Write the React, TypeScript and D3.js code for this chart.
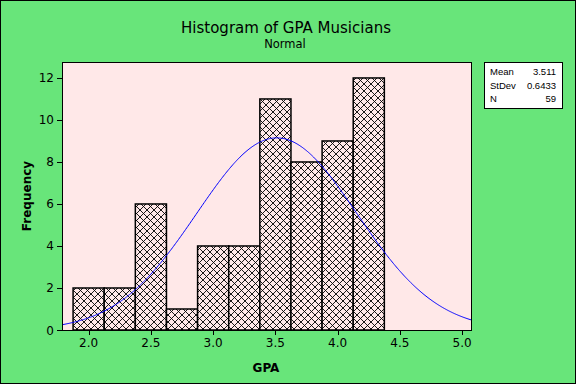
import React from "react";
import * as d3 from "d3";

const binCenters = [2.0, 2.25, 2.5, 2.75, 3.0, 3.25, 3.5, 3.75, 4.0, 4.25];
const counts = [2, 2, 6, 1, 4, 4, 11, 8, 9, 12];
const binWidth = 0.25;
const meanVal = 3.511;
const sdVal = 0.6433;
const nVal = 59;
const xTicks = [2.0, 2.5, 3.0, 3.5, 4.0, 4.5, 5.0];
const yTicks = [0, 2, 4, 6, 8, 10, 12];
const statLabels = ["Mean", "StDev", "N"];
const statValues = ["3.511", "0.6433", "59"];

const W = 576;
const H = 384;
const plot = { left: 62, right: 471, top: 62, bottom: 330 };
const GREEN = "#68E57A";
const PINK = "#FFE8E8";
const FONT = "DejaVu Sans, Verdana, sans-serif";
const SMALLFONT = "Liberation Sans, Arial, sans-serif";

export default function App() {
  React.useEffect(() => {
    document.body.style.margin = "0";
  }, []);
  const x = d3.scaleLinear().domain([1.786, 5.071]).range([plot.left, plot.right]);
  const y = d3.scaleLinear().domain([0, 12.76]).range([plot.bottom, plot.top]);

  const scale = nVal * binWidth;
  const pdf = (v: number) =>
    (scale / (sdVal * Math.sqrt(2 * Math.PI))) * Math.exp(-0.5 * ((v - meanVal) / sdVal) ** 2);
  const xs = d3.range(0, 401).map((i) => 1.786 + ((5.071 - 1.786) * i) / 400);
  const line = d3
    .line<number>()
    .x((d) => x(d))
    .y((d) => y(pdf(d)))
    .curve(d3.curveLinear);

  return (
    <svg width={W} height={H} style={{ display: "block", position: "absolute", left: 0, top: 0 }}>
      <defs>
        <pattern id="hatch" patternUnits="userSpaceOnUse" width={7} height={7}>
          <rect width={7} height={7} fill={PINK} />
          <path d="M0,0 L7,7 M7,0 L0,7" stroke="#000" strokeWidth={0.9} />
        </pattern>
        <clipPath id="plotclip">
          <rect x={plot.left} y={plot.top} width={plot.right - plot.left} height={plot.bottom - plot.top} />
        </clipPath>
      </defs>
      <rect x={0.5} y={0.5} width={W - 1} height={H - 1} fill={GREEN} stroke="#000" strokeWidth={1} />
      <text x={286} y={33} textAnchor="middle" fontFamily={FONT} fontSize={15} fill="#000">
        Histogram of GPA Musicians
      </text>
      <text x={285} y={48} textAnchor="middle" fontFamily={FONT} fontSize={11.5} fill="#000">
        Normal
      </text>
      <rect
        x={plot.left + 0.5}
        y={plot.top + 0.5}
        width={plot.right - plot.left}
        height={plot.bottom - plot.top}
        fill={PINK}
        stroke="#000"
        strokeWidth={1}
      />
      <g>
        {binCenters.map((c, i) => (
          <rect
            key={i}
            x={x(c - binWidth / 2)}
            y={y(counts[i])}
            width={x(c + binWidth / 2) - x(c - binWidth / 2)}
            height={y(0) - y(counts[i])}
            fill="url(#hatch)"
            stroke="#000"
            strokeWidth={1.5}
          />
        ))}
      </g>
      <path d={line(xs) || ""} fill="none" stroke="#0000FF" strokeWidth={1} clipPath="url(#plotclip)" />
      <line x1={plot.left} x2={plot.right + 1} y1={plot.bottom + 0.5} y2={plot.bottom + 0.5} stroke="#000" />
      <line x1={plot.left + 0.5} x2={plot.left + 0.5} y1={plot.top} y2={plot.bottom + 1} stroke="#000" />
      {xTicks.map((t) => (
        <g key={t}>
          <line x1={Math.round(x(t)) + 0.5} x2={Math.round(x(t)) + 0.5} y1={plot.bottom} y2={plot.bottom + 5} stroke="#000" />
          <text x={x(t)} y={347} textAnchor="middle" fontFamily={FONT} fontSize={12} fill="#000">
            {t.toFixed(1)}
          </text>
        </g>
      ))}
      {yTicks.map((t) => (
        <g key={t}>
          <line x1={plot.left - 5} x2={plot.left} y1={Math.round(y(t)) + 0.5} y2={Math.round(y(t)) + 0.5} stroke="#000" />
          <text x={54} y={y(t) + 4.5} textAnchor="end" fontFamily={FONT} fontSize={12} fill="#000">
            {t}
          </text>
        </g>
      ))}
      <text x={266} y={372} textAnchor="middle" fontFamily={FONT} fontSize={12} fontWeight="bold" fill="#000">
        GPA
      </text>
      <text
        transform={`translate(31,196) rotate(-90)`}
        textAnchor="middle"
        fontFamily={FONT}
        fontSize={12}
        fontWeight="bold"
        fill="#000"
      >
        Frequency
      </text>
      <rect x={484.5} y={62.5} width={78} height={46} fill="#fff" stroke="#000" strokeWidth={1} />
      {statLabels.map((s, i) => (
        <g key={s}>
          <text x={490} y={75 + i * 13.5} fontFamily={SMALLFONT} fontSize={9.5} fill="#000">
            {s}
          </text>
          <text x={556} y={75 + i * 13.5} textAnchor="end" fontFamily={SMALLFONT} fontSize={9.5} fill="#000">
            {statValues[i]}
          </text>
        </g>
      ))}
    </svg>
  );
}
